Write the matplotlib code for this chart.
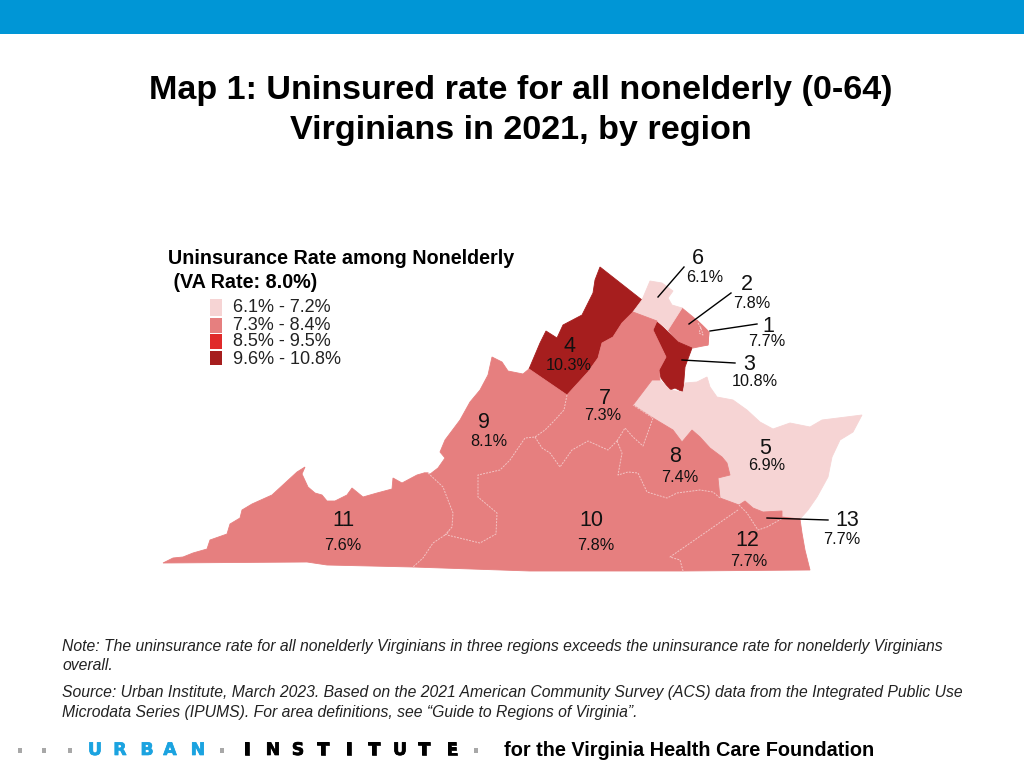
import matplotlib
matplotlib.use("Agg")
import matplotlib.pyplot as plt
import matplotlib.patheffects as pe
from matplotlib.patches import Polygon, Rectangle

##########################################
# all outlines are read off the picture, in picture pixels
titleLines = ["Map 1: Uninsured rate for all nonelderly (0-64)", "Virginians in 2021, by region"]
regionIds = [1, 2, 3, 4, 5, 6, 7, 8, 9, 10, 11, 12, 13]
regionRates = [7.7, 7.8, 10.8, 10.3, 6.9, 6.1, 7.3, 7.4, 8.1, 7.8, 7.6, 7.7, 7.7]
legendTitle = ["Uninsurance Rate among Nonelderly", " (VA Rate: 8.0%)"]
legendLabels = ["6.1% - 7.2%", "7.3% - 8.4%", "8.5% - 9.5%", "9.6% - 10.8%"]
legendTops = [7.2, 8.4, 9.5, 10.8]
legendColors = ["#f6d4d4", "#e67f7f", "#e02a2a", "#a61e1e"]
noteLines = ["Note: The uninsurance rate for all nonelderly Virginians in three regions exceeds the uninsurance rate for nonelderly Virginians",
             "overall."]
sourceLines = ["Source: Urban Institute, March 2023. Based on the 2021 American Community Survey (ACS) data from the Integrated Public Use",
               "Microdata Series (IPUMS). For area definitions, see \u201cGuide to Regions of Virginia\u201d."]
footerText = "for the Virginia Health Care Foundation"
logoBlue = "URBAN"
logoBlack = "INSTITUTE"

border_9_10 = [(567, 395), (564, 410), (553, 422), (545, 430), (535, 437), (525, 438), (510, 460), (500, 470),
               (478, 475), (478, 497), (497, 513), (496, 534), (480, 543), (447, 535)]
border_11_9 = [(428, 473), (443, 487), (453, 513), (452, 527), (445, 535)]
border_11_10 = [(445, 535), (433, 543), (423, 558), (413, 567)]
border_7_10 = [(535, 437), (542, 448), (550, 453), (560, 467), (572, 450), (588, 441), (608, 450), (617, 441)]
border_7_8 = [(617, 441), (625, 428), (633, 437), (643, 446), (653, 418), (633, 405)]
border_8_10 = [(617, 441), (622, 453), (618, 475), (628, 472), (638, 473), (647, 492), (667, 498), (677, 493),
               (700, 490), (713, 492), (720, 498)]
border_12_10 = [(738, 510), (670, 557), (680, 560), (683, 571)]
border_12_13 = [(739, 505), (747, 513), (758, 530), (767, 527), (783, 518)]
border_1_2 = [(698, 323), (701, 328), (703, 335), (699, 333), (701, 327)]

region1 = [(697, 320), (702, 325), (709, 332), (708, 345), (703, 345), (701, 335), (697, 330)]
region2 = [(682, 308), (693, 317), (702, 325), (709, 332), (708, 345), (693, 348), (678, 342), (668, 330)]
region3 = [(657, 321), (668, 332), (678, 342), (692, 348), (685, 367), (683, 392), (675, 388), (670, 390),
           (661, 378), (659, 370), (666, 357), (653, 330)]
region4 = [(600, 267), (642, 300), (633, 312), (622, 323), (613, 337), (602, 343), (598, 358), (588, 372),
           (567, 395), (529, 369), (540, 343), (546, 331), (557, 338), (563, 325), (582, 315), (593, 293), (595, 280)]
region5 = [(633, 405), (652, 380), (660, 380), (670, 390), (683, 392), (685, 383), (697, 382), (707, 377),
           (710, 387), (717, 397), (733, 400), (747, 410), (760, 422), (773, 429), (790, 423), (810, 427),
           (822, 420), (862, 415), (853, 432), (840, 440), (832, 457), (828, 477), (817, 497), (808, 510),
           (800, 519), (782, 517), (782, 511), (763, 512), (753, 508), (745, 501), (739, 505), (720, 498),
           (718, 478), (730, 475), (727, 463), (722, 457), (710, 448), (700, 437), (692, 430), (682, 442),
           (673, 430), (653, 418)]
region6 = [(642, 300), (650, 281), (662, 283), (673, 291), (668, 298), (672, 305), (682, 308), (668, 330),
           (657, 321), (633, 312)]
region7 = [(567, 395), (588, 372), (598, 358), (602, 343), (613, 337), (622, 323), (633, 312), (657, 321),
           (653, 330), (666, 357), (659, 370), (660, 380), (652, 380)] + border_7_8[::-1] + border_7_10[::-1]
region8 = [(653, 418), (673, 430), (682, 442), (692, 430), (700, 437), (710, 448), (722, 457), (727, 463),
           (730, 475), (718, 478), (720, 498)] + border_8_10[::-1] + border_7_8[:-1]
region9 = [(567, 395), (529, 369), (523, 374), (508, 371), (502, 362), (492, 357), (488, 375), (480, 390),
           (470, 402), (460, 420), (445, 440), (440, 452), (445, 458), (438, 468), (425, 478), (424, 473), (428, 473)] \
    + border_11_9[:-1] + border_9_10[::-1]
region10 = border_9_10 + border_11_10 + [(530, 571), (683, 571)] + border_12_10[::-1] + [(739, 505), (720, 498)] \
    + border_8_10[::-1] + border_7_10[::-1]
region11 = [(163, 563), (173, 558), (183, 557), (193, 553), (207, 549), (210, 540), (227, 534), (230, 524), (240, 518),
            (242, 510), (252, 504), (272, 495), (297, 472), (305, 467), (302, 474), (308, 487), (315, 493), (322, 495),
            (327, 501), (335, 501), (347, 495), (352, 488), (363, 497), (377, 493), (392, 489), (393, 478), (402, 483),
            (417, 475), (424, 473), (428, 473)] + border_11_9[1:] + border_11_10[1:] + [(327, 565), (307, 562)]
region12 = [(739, 505)] + border_12_13[1:] + [(800, 519), (802, 533), (805, 550), (810, 570), (683, 571)] + border_12_10[::-1][1:]
region13 = border_12_13 + [(800, 519), (782, 517), (782, 511), (763, 512), (753, 508), (745, 501)]
regionShapes = [region1, region2, region3, region4, region5, region6, region7, region8, region9, region10,
                region11, region12, region13]
regionDashes = [border_9_10, border_11_9, border_11_10, border_7_10, border_7_8, border_8_10, border_12_10,
                border_12_13, border_1_2]

numberPos = [(768, 326), (747, 284), (749, 365), (569, 347), (765, 448), (698, 258), (605, 398), (675, 457),
             (484, 423), (591, 521), (343, 521), (747, 541), (847, 520)]
ratePos = [(767, 342), (752, 303), (755, 381), (569, 366), (767, 466), (705, 277), (603, 416), (680, 477),
           (489, 442), (596, 545), (343, 545), (749, 562), (842, 540)]
leaderLines = [((684, 267), (658, 297)), ((731, 293), (689, 324)), ((757, 324), (710, 331)),
               ((735, 363), (682, 360)), ((828, 520), (767, 518))]
swatchTops = [298.5, 317.5, 334, 351]
swatchBottoms = [316, 333, 349, 365]
labelRows = [307, 325, 342, 359]
logoBlueX = [95, 120, 147, 170, 198]
logoBlackX = [247, 273, 298, 323, 349, 374, 400, 424, 452]
logoDotX = [20, 44, 70, 222, 476]
##########################################


def rateColor(rate):
    for top, color in zip(legendTops, legendColors):
        if rate <= top:
            return color
    return legendColors[-1]


plt.rcParams['font.family'] = ['Liberation Sans', 'DejaVu Sans']
fig = plt.figure(figsize=(10.24, 7.68), dpi=100)
ax = fig.add_axes([0, 0, 1, 1])
ax.set_xlim(0, 1024)
ax.set_ylim(768, 0)
ax.axis('off')

# top band
ax.add_patch(Rectangle((0, 0), 1024, 34, color="#0096d6", lw=0))

for i, line in enumerate(titleLines):
    ax.text(520.5, 90 + i * 40, line, ha='center', va='center', fontsize=24.6, fontweight='bold', color='black')

# map
for shape, rate in zip(regionShapes, regionRates):
    ax.add_patch(Polygon(shape, closed=True, facecolor=rateColor(rate), edgecolor=rateColor(rate), lw=0.6, zorder=2))
for border in regionDashes:
    ax.plot([p[0] for p in border], [p[1] for p in border], color="#f3c4c4", lw=0.7, ls=(0, (2, 1.2)), zorder=3)

for start, end in leaderLines:
    ax.plot([start[0], end[0]], [start[1], end[1]], color='black', lw=1.0, zorder=4)

for rid, rate, npos, rpos in zip(regionIds, regionRates, numberPos, ratePos):
    ax.text(npos[0], npos[1], str(rid), ha='center', va='center', fontsize=15.5, color="#111111", zorder=5)
    ax.text(rpos[0], rpos[1], "%.1f%%" % rate, ha='center', va='center', fontsize=11.7, color="#111111", zorder=5)

# legend
ax.text(168, 258.5, legendTitle[0], ha='left', va='center', fontsize=14.2, fontweight='bold')
ax.text(168, 282, legendTitle[1], ha='left', va='center', fontsize=14.2, fontweight='bold')
for top, bottom, color, label, row in zip(swatchTops, swatchBottoms, legendColors, legendLabels, labelRows):
    ax.add_patch(Rectangle((210, top), 12, bottom - top, facecolor=color, edgecolor='none'))
    ax.text(233, row, label, ha='left', va='center', fontsize=13.0, color="#222222")

# notes
ax.text(62, 646, noteLines[0], ha='left', va='center', fontsize=11.3, style='italic', color="#222222")
ax.text(62, 665, noteLines[1], ha='left', va='center', fontsize=11.3, style='italic', color="#222222")
ax.text(62, 693, sourceLines[0], ha='left', va='center', fontsize=11.3, style='italic', color="#222222")
ax.text(62, 712, sourceLines[1], ha='left', va='center', fontsize=11.3, style='italic', color="#222222")

# logo
for x in logoDotX:
    ax.add_patch(Rectangle((x - 2, 748), 4, 5, facecolor="#a8a8a8", edgecolor='none'))
for x, letter in zip(logoBlueX, logoBlue):
    ax.text(x, 750, letter, ha='center', va='center', fontsize=12.5, fontweight='bold', color="#1ba3e0",
            family='DejaVu Sans', path_effects=[pe.withStroke(linewidth=0.5, foreground="#1ba3e0")])
for x, letter in zip(logoBlackX, logoBlack):
    ax.text(x, 750, letter, ha='center', va='center', fontsize=12.5, fontweight='bold', color="black",
            family='DejaVu Sans', path_effects=[pe.withStroke(linewidth=0.5, foreground="black")])
ax.text(504, 750, footerText, ha='left', va='center', fontsize=14.3, fontweight='bold')

fig.savefig("out.png", dpi=100)
